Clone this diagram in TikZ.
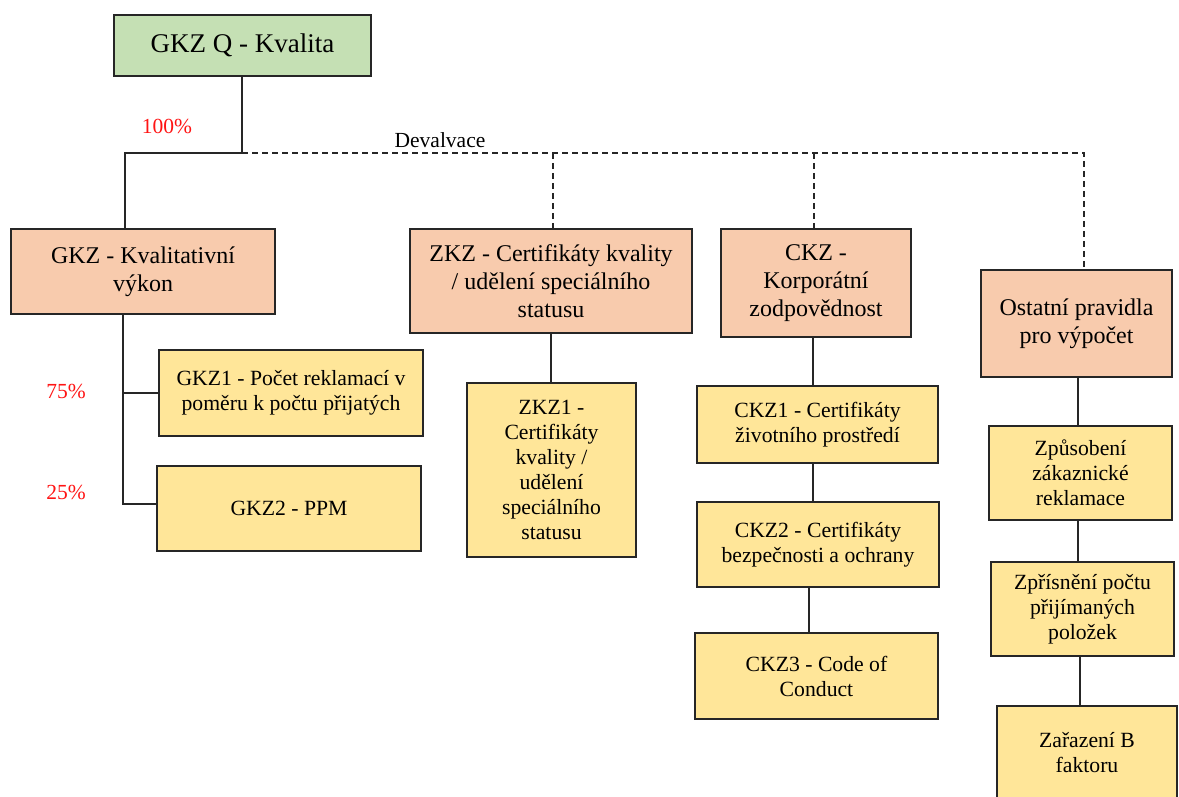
\documentclass[tikz,border=0pt]{standalone}
\usepackage{fontspec}
\setmainfont{LiberationSerif}[Extension=.ttf, UprightFont=*-Regular, BoldFont=*-Bold, ItalicFont=*-Italic]
\definecolor{topgreen}{RGB}{197,224,180}
\definecolor{catsalmon}{RGB}{248,203,173}
\definecolor{itemyellow}{RGB}{255,230,153}
\definecolor{pctred}{RGB}{255,20,20}
\begin{document}
\begin{tikzpicture}[x=1pt,y=-1pt,
  box/.style={draw=black!85, line width=1.3pt, align=center, inner sep=0pt},
  topbox/.style={box, fill=topgreen, font=\fontsize{27}{32}\selectfont},
  catbox/.style={box, fill=catsalmon, font=\fontsize{24}{28}\selectfont},
  itembox/.style={box, fill=itemyellow, font=\fontsize{21.7}{25}\selectfont},
  link/.style={draw=black!85, line width=1.3pt},
  devlink/.style={draw=black!85, line width=1.3pt, dash pattern=on 6pt off 4pt},
  pct/.style={text=pctred, font=\fontsize{21.5}{25}\selectfont, inner sep=0pt},
  note/.style={font=\fontsize{21.5}{25}\selectfont, inner sep=0pt}]
\useasboundingbox (0,0) rectangle (1179,797);
\clip (0,0) rectangle (1179,797);

% top level
\node[topbox, minimum width=257pt, minimum height=61pt] (q) at (242.5,45.5) {GKZ Q - Kvalita};

% categories
\node[catbox, minimum width=264pt, minimum height=85pt] (g) at (143,271.5) {GKZ - Kvalitativní\\výkon};
\node[catbox, minimum width=282pt, minimum height=104pt] (z) at (551,281) {ZKZ - Certifikáty kvality\\/ udělení speciálního\\statusu};
\node[catbox, minimum width=190pt, minimum height=108pt] (c) at (816,283) {CKZ -\\Korporátní\\zodpovědnost};
\node[catbox, minimum width=191pt, minimum height=107pt] (o) at (1076.5,323.5) {Ostatní pravidla\\pro výpočet};

% items
\node[itembox, minimum width=264pt, minimum height=86pt] (g1) at (291,393) {GKZ1 - Počet reklamací v\\poměru k počtu přijatých};
\node[itembox, minimum width=264pt, minimum height=85pt] (g2) at (289,508.5) {GKZ2 - PPM};
\node[itembox, minimum width=169pt, minimum height=174pt] (z1) at (551.5,470) {ZKZ1 -\\Certifikáty\\kvality /\\udělení\\speciálního\\statusu};
\node[itembox, minimum width=241pt, minimum height=77pt] (c1) at (817.5,424.5) {CKZ1 - Certifikáty\\životního prostředí};
\node[itembox, minimum width=242pt, minimum height=85pt] (c2) at (818,544.5) {CKZ2 - Certifikáty\\bezpečnosti a ochrany};
\node[itembox, minimum width=243pt, minimum height=86pt] (c3) at (816.5,676) {CKZ3 - Code of\\Conduct};
\node[itembox, minimum width=183pt, minimum height=94pt] (o1) at (1080.5,473) {Způsobení\\zákaznické\\reklamace};
\node[itembox, minimum width=183pt, minimum height=94pt] (o2) at (1082.5,609) {Zpřísnění počtu\\přijímaných\\položek};
\node[itembox, minimum width=180pt, minimum height=94pt] (o3) at (1087,753) {Zařazení B\\faktoru};

% junction points
\coordinate (j) at (242,153);
\coordinate (jl) at (125,153);
\coordinate (jr) at (1084,153);
\coordinate (dz) at (553,153);
\coordinate (dc) at (814,153);
\coordinate (gb) at (123,504);

% weighted link to the performance branch
\draw[link] (j |- q.south) -- (j) -- (jl) -- (jl |- g.north);
% devaluation links
\draw[devlink] (j) -- (jr) -- (jr |- o.north);
\draw[devlink] (dz) -- (dz |- z.north);
\draw[devlink] (dc) -- (dc |- c.north);
\node[note] (dev) at (440,140) {Devalvace};

% performance sub-criteria
\draw[link] (g.south -| gb) |- ([yshift=4.5pt]g2.west);
\draw[link] (g1.west -| gb) -- (g1.west);

% certificate chains
\draw[link] (z.south) -- (z.south |- z1.north);
\draw[link] ([xshift=-3pt]c.south) -- ([xshift=-3pt]c.south |- c1.north);
\draw[link] ([xshift=-4.5pt]c1.south) -- ([xshift=-4.5pt]c1.south |- c2.north);
\draw[link] ([xshift=-9pt]c2.south) -- ([xshift=-9pt]c2.south |- c3.north);

% other rules chain
\draw[link] ([xshift=1.5pt]o.south) -- ([xshift=1.5pt]o.south |- o1.north);
\draw[link] ([xshift=-2.5pt]o1.south) -- ([xshift=-2.5pt]o1.south |- o2.north);
\draw[link] ([xshift=-2.5pt]o2.south) -- ([xshift=-2.5pt]o2.south |- o3.north);

% weights
\node[pct] (p100) at (167,126) {100\%};
\node[pct] (p75) at (66,391) {75\%};
\node[pct] (p25) at (66,492) {25\%};
\end{tikzpicture}
\end{document}
